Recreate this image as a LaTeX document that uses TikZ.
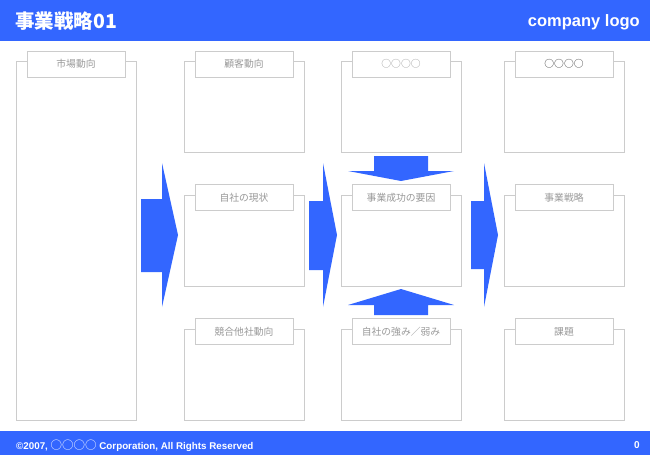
\documentclass[tikz,border=0pt]{standalone}
\usepackage{fontspec}
\setmainfont{Liberation Sans}
\newfontfamily\jp{Noto Sans CJK JP}
\definecolor{bizblue}{HTML}{3366FF}
\definecolor{boxgray}{HTML}{CCCCCC}
\definecolor{labgray}{HTML}{999999}
\definecolor{labdark}{HTML}{333333}
\tikzset{
  outerbox/.style={draw=boxgray, line width=0.9pt, fill=white, minimum width=120pt, inner sep=0pt},
  labelbox/.style={draw=boxgray, line width=0.9pt, fill=white, minimum width=98pt, minimum height=25.5pt, inner sep=0pt,
     font=\jp\fontsize{9.8}{10}\selectfont, text=labgray},
  bluearrow/.style={fill=bizblue, draw=none},
}
\begin{document}
\begin{tikzpicture}[x=1pt,y=-1pt]
\useasboundingbox (0,0) rectangle (650,455);
% header and footer
\fill[bizblue] (0,0) rectangle (650,41);
\fill[bizblue] (0,431) rectangle (650,455);
\node[anchor=west, text=white, font=\jp\bfseries\fontsize{19.5}{20}\selectfont, inner sep=0pt] (title) at (15,21) {事業戦略01};
\node[anchor=east, text=white, font=\bfseries\fontsize{16.5}{17}\selectfont, inner sep=0pt] (logo) at (640,22) {company logo};
\node[anchor=west, text=white, font=\bfseries\fontsize{9.8}{10}\selectfont, inner sep=0pt] (copy) at (16,445.5)
  {©2007, {\jp\mdseries\fontsize{11.5}{12}\selectfont ○○○○} Corporation, All Rights Reserved};
\node[anchor=east, text=white, font=\bfseries\fontsize{10}{11}\selectfont, inner sep=0pt] (pageno) at (640,445) {0};

% column 1
\node[outerbox, minimum height=359pt] (mkt) at (76,240.5) {};
\node[labelbox, minimum height=26pt] (mktL) at (76,64) {市場動向};

% column 2
\node[outerbox, minimum height=91pt] (cust) at (244,106.5) {};
\node[labelbox, minimum height=26pt] (custL) at (244,64) {顧客動向};
\node[outerbox, minimum height=91pt] (own) at (244,240.5) {};
\node[labelbox] (ownL) at (244,197.5) {自社の現状};
\node[outerbox, minimum height=91pt] (comp) at (244,374.5) {};
\node[labelbox] (compL) at (244,331.5) {競合他社動向};

% column 3
\node[outerbox, minimum height=91pt] (c3top) at (401,106.5) {};
\node[labelbox, minimum height=26pt] (c3topL) at (401,64) {○○○○};
\node[outerbox, minimum height=91pt] (ksf) at (401,240.5) {};
\node[labelbox] (ksfL) at (401,197.5) {事業成功の要因};
\node[outerbox, minimum height=91pt] (sw) at (401,374.5) {};
\node[labelbox] (swL) at (401,331.5) {自社の強み／弱み};

% column 4
\node[outerbox, minimum height=91pt] (c4top) at (564,106.5) {};
\node[labelbox, minimum height=26pt, text=labdark] (c4topL) at (564,64) {○○○○};
\node[outerbox, minimum height=91pt] (strat) at (564,240.5) {};
\node[labelbox] (stratL) at (564,197.5) {事業戦略};
\node[outerbox, minimum height=91pt] (issue) at (564,374.5) {};
\node[labelbox] (issueL) at (564,331.5) {課題};

% block arrows
\fill[bluearrow] (141,199) -- (162,199) -- (162,163) -- (178,235) -- (162,307) -- (162,272) -- (141,272) -- cycle;
\fill[bluearrow] (309,201) -- (323,201) -- (323,163) -- (337,235) -- (323,307) -- (323,270) -- (309,270) -- cycle;
\fill[bluearrow] (471,201) -- (484,201) -- (484,163) -- (498,235) -- (484,307) -- (484,269) -- (471,269) -- cycle;
\fill[bluearrow] (374,156) -- (428,156) -- (428,171) -- (454,171) -- (401,181) -- (348,171) -- (374,171) -- cycle;
\fill[bluearrow] (374,315) -- (428,315) -- (428,305) -- (454,305) -- (401,289) -- (348,305) -- (374,305) -- cycle;
\end{tikzpicture}
\end{document}
